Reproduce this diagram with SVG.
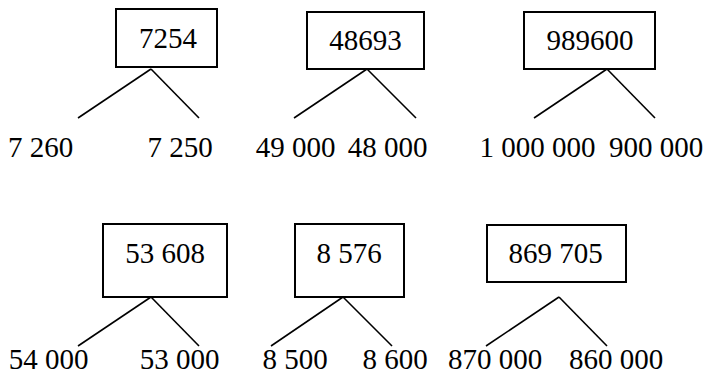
<svg xmlns="http://www.w3.org/2000/svg" width="712" height="375" viewBox="0 0 712 375">
<style>
.box{fill:#fff;stroke:#000;stroke-width:2}
.c line{stroke:#000;stroke-width:1.6}
</style>
<rect width="712" height="375" fill="#fff"/>
<g class="c" id="connectors">
<line x1="151" y1="69" x2="78" y2="118"/><line x1="151" y1="69" x2="199" y2="118"/>
<line x1="367" y1="69" x2="294" y2="118"/><line x1="367" y1="69" x2="416" y2="118"/>
<line x1="607" y1="69" x2="534" y2="118"/><line x1="607" y1="69" x2="655" y2="118"/>
<line x1="151" y1="297" x2="78" y2="346"/><line x1="151" y1="297" x2="199" y2="346"/>
<line x1="343" y1="297" x2="271" y2="346"/><line x1="343" y1="297" x2="392" y2="346"/>
<line x1="559" y1="297" x2="486" y2="346"/><line x1="559" y1="297" x2="607" y2="346"/>
</g>
<g id="n7254"><rect class="box" x="116" y="9" width="101" height="58"/><text font-family="Liberation Serif" font-size="29" text-anchor="middle" x="168" y="48">7254</text></g>
<g id="n48693"><rect class="box" x="307" y="12" width="117" height="57"/><text font-family="Liberation Serif" font-size="29" text-anchor="middle" x="365.5" y="50">48693</text></g>
<g id="n989600"><rect class="box" x="524" y="12" width="131" height="57"/><text font-family="Liberation Serif" font-size="29" text-anchor="middle" x="590" y="50">989600</text></g>
<g id="n53608"><rect class="box" x="103" y="224" width="124" height="73"/><text font-family="Liberation Serif" font-size="29" text-anchor="middle" x="165" y="263">53 608</text></g>
<g id="n8576"><rect class="box" x="295" y="224" width="109" height="73"/><text font-family="Liberation Serif" font-size="29" text-anchor="middle" x="349" y="263">8 576</text></g>
<g id="n869705"><rect class="box" x="487" y="225" width="139" height="57"/><text font-family="Liberation Serif" font-size="29" text-anchor="middle" x="555.5" y="263">869 705</text></g>
<g id="leaf-7260"><text font-family="Liberation Serif" font-size="29" text-anchor="middle" x="40.5" y="157">7 260</text></g>
<g id="leaf-7250"><text font-family="Liberation Serif" font-size="29" text-anchor="middle" x="180" y="157">7 250</text></g>
<g id="leaf-49000"><text font-family="Liberation Serif" font-size="29" text-anchor="middle" x="295.5" y="157">49 000</text></g>
<g id="leaf-48000"><text font-family="Liberation Serif" font-size="29" text-anchor="middle" x="387.5" y="157">48 000</text></g>
<g id="leaf-1000000"><text font-family="Liberation Serif" font-size="29" text-anchor="middle" x="537.5" y="157">1 000 000</text></g>
<g id="leaf-900000"><text font-family="Liberation Serif" font-size="29" text-anchor="middle" x="656" y="157">900 000</text></g>
<g id="leaf-54000"><text font-family="Liberation Serif" font-size="29" text-anchor="middle" x="48.5" y="369">54 000</text></g>
<g id="leaf-53000"><text font-family="Liberation Serif" font-size="29" text-anchor="middle" x="179.5" y="369">53 000</text></g>
<g id="leaf-8500"><text font-family="Liberation Serif" font-size="29" text-anchor="middle" x="295" y="369">8 500</text></g>
<g id="leaf-8600"><text font-family="Liberation Serif" font-size="29" text-anchor="middle" x="395" y="369">8 600</text></g>
<g id="leaf-870000"><text font-family="Liberation Serif" font-size="29" text-anchor="middle" x="495" y="369">870 000</text></g>
<g id="leaf-860000"><text font-family="Liberation Serif" font-size="29" text-anchor="middle" x="616" y="369">860 000</text></g>
</svg>
